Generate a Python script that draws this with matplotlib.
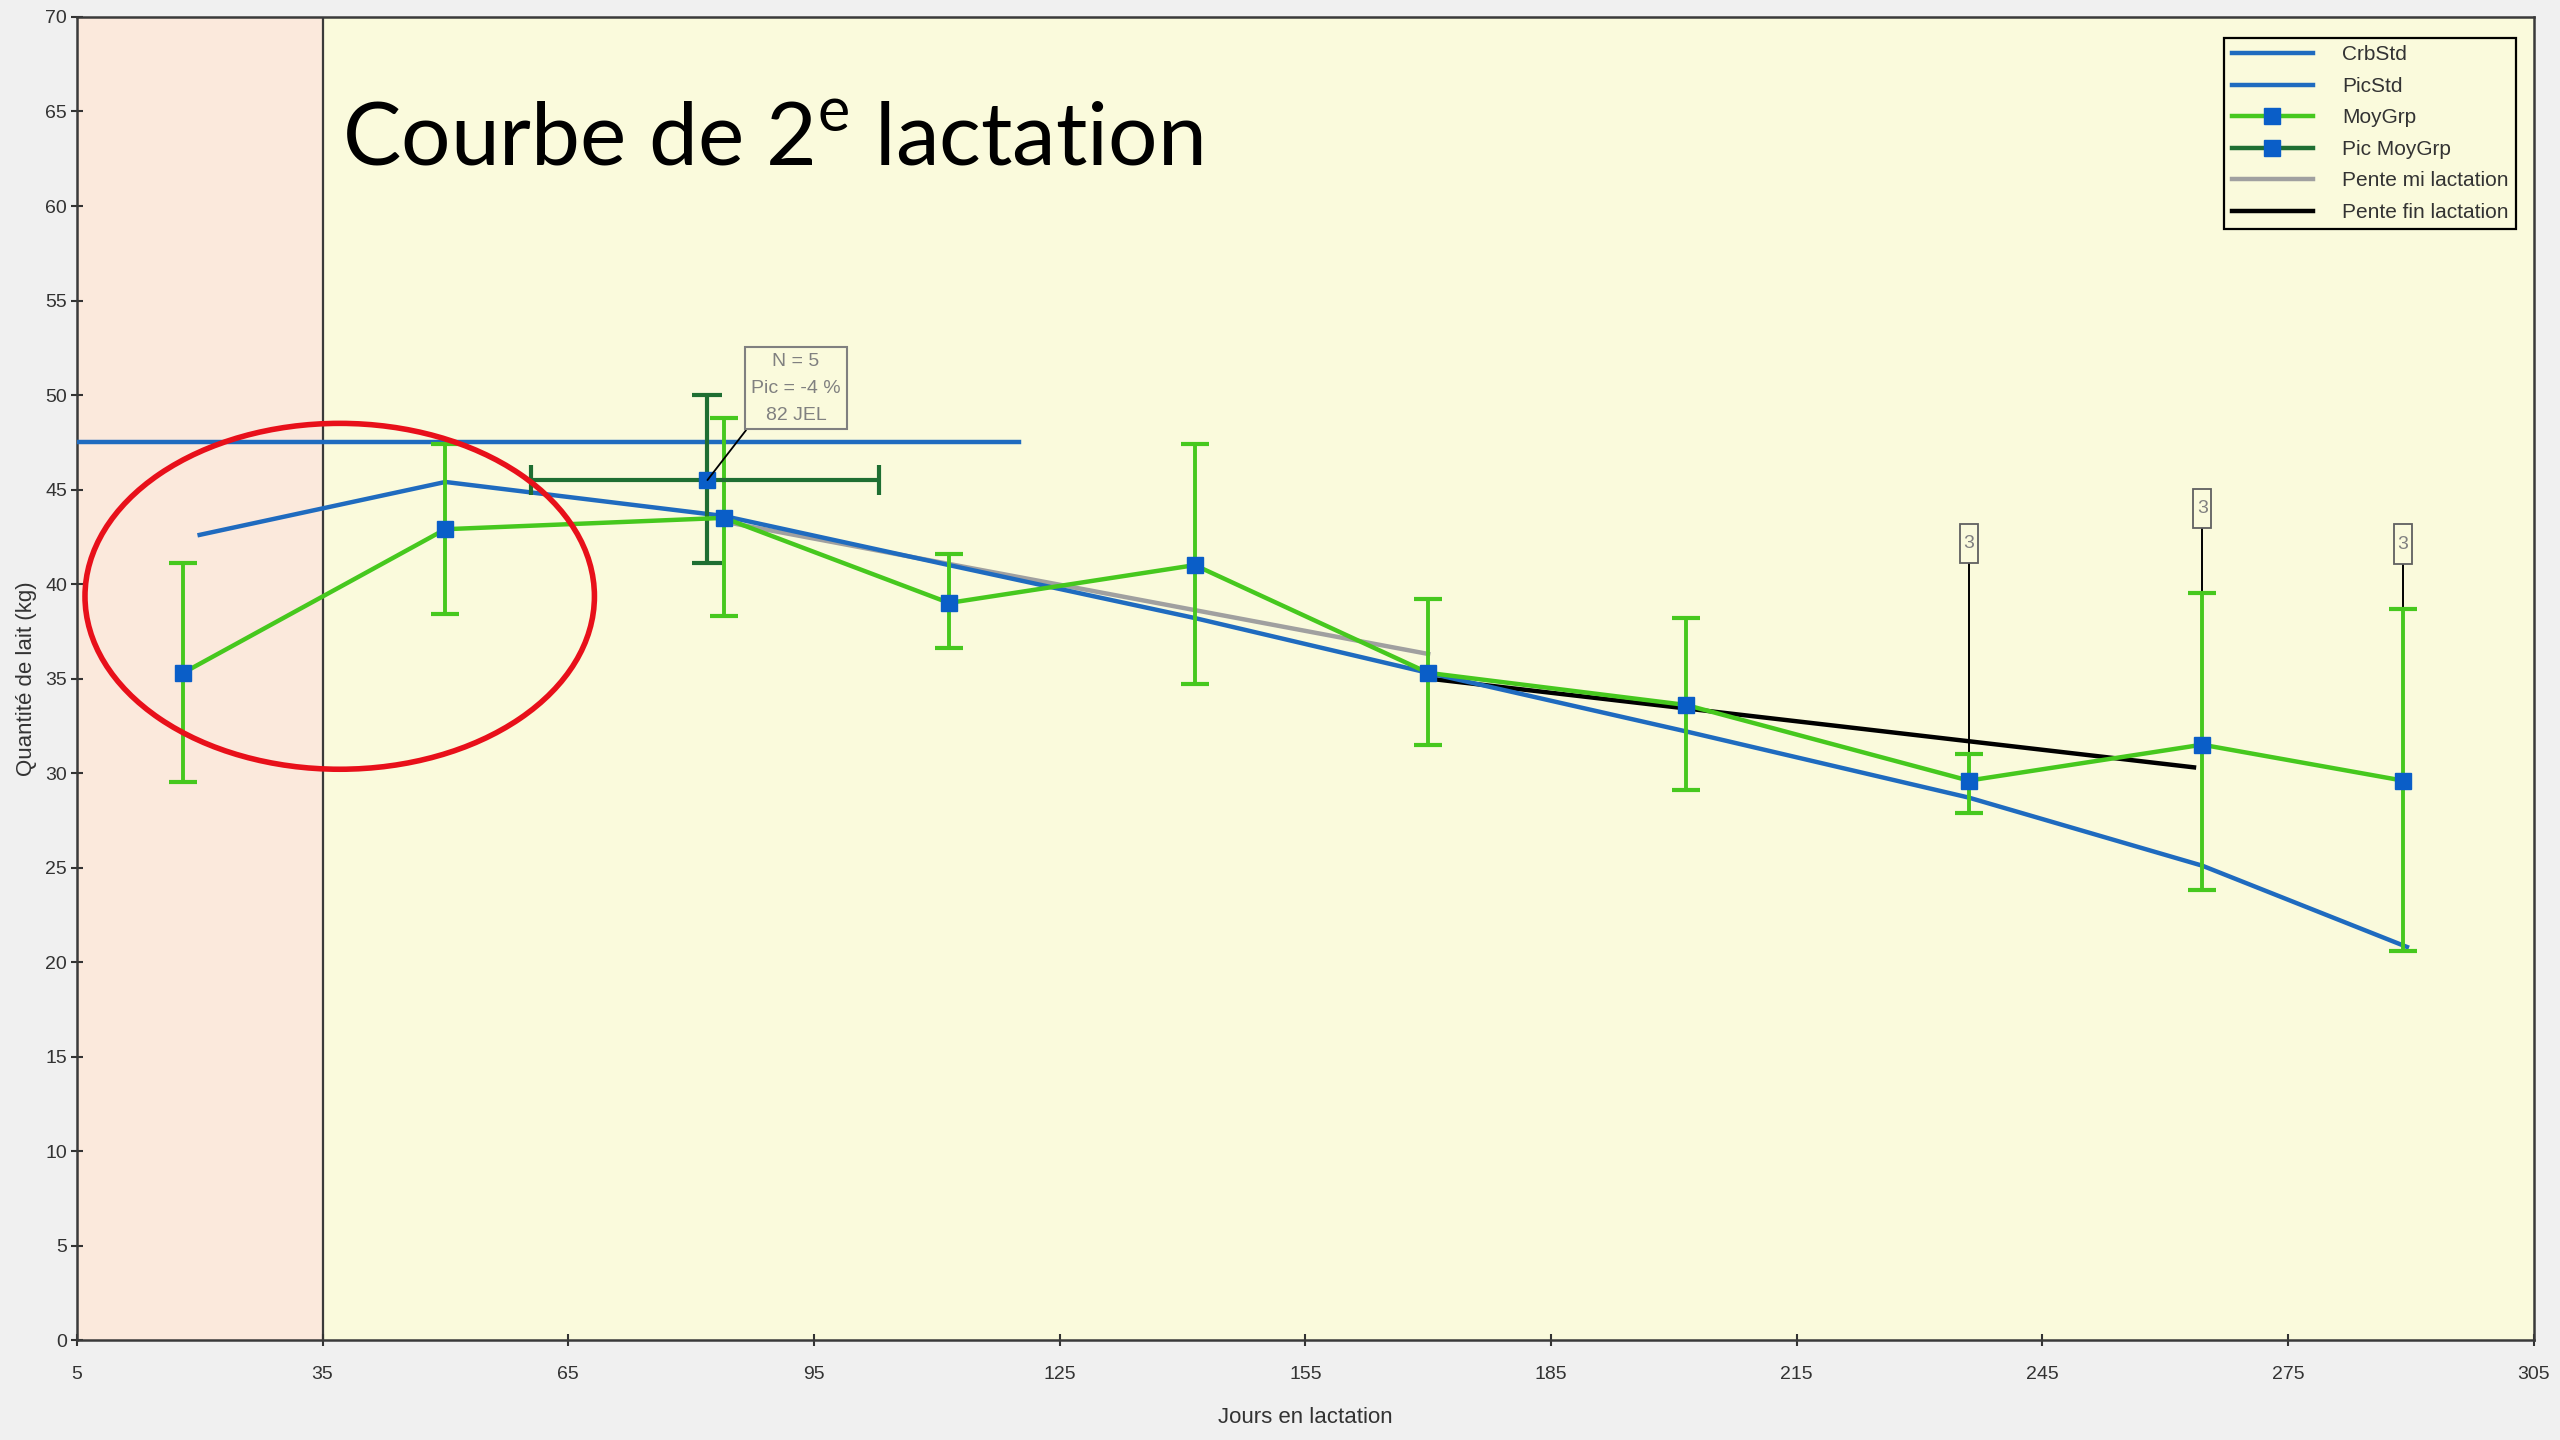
import matplotlib
matplotlib.use("Agg")
import matplotlib.pyplot as plt
from matplotlib.patches import Ellipse, Rectangle
from matplotlib.lines import Line2D

# --- data ---
days_grp = [18, 50, 84, 111.5, 141.5, 170, 201.5, 236, 264.5, 289]
moy_grp = [35.3, 42.9, 43.5, 39.0, 41.0, 35.3, 33.6, 29.6, 31.5, 29.6]
moy_low = [29.5, 38.4, 38.3, 36.6, 34.7, 31.5, 29.1, 27.9, 23.8, 20.6]
moy_high = [41.1, 47.4, 48.8, 41.6, 47.4, 39.2, 38.2, 31.0, 39.5, 38.7]

days_std = [20, 50, 84, 111.5, 141.5, 170, 201.5, 236, 264.5, 289.5]
crb_std = [42.6, 45.4, 43.6, 41.0, 38.2, 35.3, 32.2, 28.7, 25.1, 20.8]

pic_std_x = [5, 120]
pic_std_y = [47.5, 47.5]

pic_day, pic_val = 82, 45.5
pic_xerr = [60.5, 103]
pic_yerr = [41.1, 50.0]

pente_mi_x = [84, 170]
pente_mi_y = [43.3, 36.3]
pente_fin_x = [170, 263.5]
pente_fin_y = [35.0, 30.3]

n_days = [236, 264.5, 289]
n_vals = [29.6, 31.5, 29.6]
n_label_y = [42.15, 44.0, 42.1]
n_labels = ["3", "3", "3"]

xticks = list(range(5, 306, 30))
yticks = list(range(0, 71, 5))

# colours
BG_FIG = "#f0f0f0"
BG_AX = "#fafadc"
PINK = "#fbe9dc"
BLUE = "#1f6bbf"
GREEN = "#46c81e"
DKGREEN = "#1e6e32"
MARK = "#0a5ec8"

plt.rcParams["font.family"] = ["Liberation Sans Narrow", "Liberation Sans", "DejaVu Sans"]
plt.rcParams["mathtext.fontset"] = "custom"
plt.rcParams["mathtext.rm"] = "Lato"

fig = plt.figure(figsize=(25.6, 14.4), dpi=100, facecolor=BG_FIG)
ax = fig.add_axes([0.030, 0.0694, 0.9598, 0.9188])
ax.set_facecolor(BG_AX)
ax.set_xlim(5, 305)
ax.set_ylim(0, 70)

ax.axvspan(5, 35, color=PINK, zorder=0, lw=0)
ax.axvline(35, color="#3a3a3a", lw=1.6, zorder=1)

# standard curve and peak
ax.plot(days_std, crb_std, color=BLUE, lw=3.2, zorder=3)
ax.plot(pic_std_x, pic_std_y, color=BLUE, lw=3.2, zorder=3)

# slopes
ax.plot(pente_mi_x, pente_mi_y, color="#a0a0a0", lw=3.2, zorder=2)
ax.plot(pente_fin_x, pente_fin_y, color="black", lw=3.2, zorder=2)

# "3" labels: tall narrow box with a leader line down to the point
for x, y, ly, t in zip(n_days, n_vals, n_label_y, n_labels):
    ax.plot([x, x], [y, ly - 1.05], color="black", lw=1.4, zorder=4)
    ax.add_patch(Rectangle((x - 1.1, ly - 1.05), 2.2, 2.1, fc=BG_AX, ec="#606060",
                           lw=1.3, zorder=4))
    ax.text(x, ly, t, ha="center", va="center", fontsize=14, color="#808080", zorder=5)

# group mean with error bars
err = [[m - lo for m, lo in zip(moy_grp, moy_low)],
       [hi - m for m, hi in zip(moy_grp, moy_high)]]
ax.errorbar(days_grp, moy_grp, yerr=err, color=GREEN, lw=3.2, elinewidth=2.8,
            capsize=10, capthick=3, marker="s", ms=11, mfc=MARK, mec=MARK, zorder=5)

# peak of group
ax.errorbar([pic_day], [pic_val],
            xerr=[[pic_day - pic_xerr[0]], [pic_xerr[1] - pic_day]],
            yerr=[[pic_val - pic_yerr[0]], [pic_yerr[1] - pic_val]],
            color=DKGREEN, elinewidth=3, capsize=11, capthick=3,
            marker="s", ms=12, mfc=MARK, mec=MARK, ls="none", zorder=5)

ax.annotate("N = 5\nPic = -4 %\n82 JEL", xy=(pic_day, pic_val), xytext=(92.8, 50.35),
            ha="center", va="center", fontsize=14, color="#808080", linespacing=1.75,
            bbox=dict(boxstyle="square,pad=0.3", fc=BG_AX, ec="#808080", lw=1.5),
            arrowprops=dict(arrowstyle="-", color="black", lw=1.3,
                            shrinkA=0, shrinkB=0, relpos=(0, 0)),
            zorder=6)

# highlight ellipse
ax.add_patch(Ellipse((37.1, 39.35), 62.2, 18.3, fill=False, ec="#e8101a", lw=4, zorder=7))

ax.text(0.108, 0.888, "Courbe de 2$^{\\mathrm{e}}$ lactation", transform=ax.transAxes,
        family="Lato", fontsize=63, color="black", va="baseline", ha="left")

ax.set_xticks(xticks)
ax.set_yticks(yticks)
ax.tick_params(axis="both", labelsize=14, colors="#333333", direction="inout",
               length=8, width=1.5)
ax.tick_params(axis="x", pad=15)
ax.tick_params(axis="y", pad=3)
for s in ax.spines.values():
    s.set_color("#3a3a3a")
    s.set_linewidth(1.8)

ax.set_xlabel("Jours en lactation", fontsize=16, color="#333333", labelpad=17)
ax.set_ylabel("Quantité de lait (kg)", fontsize=16, color="#333333", labelpad=6)

handles = [
    Line2D([], [], color=BLUE, lw=3.2),
    Line2D([], [], color=BLUE, lw=3.2),
    Line2D([], [], color=GREEN, lw=3.2, marker="s", ms=11, mfc=MARK, mec=MARK),
    Line2D([], [], color=DKGREEN, lw=3.2, marker="s", ms=12, mfc=MARK, mec=MARK),
    Line2D([], [], color="#a0a0a0", lw=3.2),
    Line2D([], [], color="black", lw=3.2),
]
labels = ["CrbStd", "PicStd", "MoyGrp", "Pic MoyGrp", "Pente mi lactation", "Pente fin lactation"]
leg = ax.legend(handles, labels, loc="upper right", bbox_to_anchor=(0.9927, 0.984),
                borderaxespad=0, fontsize=15, handlelength=3.9, handletextpad=1.4,
                labelspacing=0.6, frameon=True, fancybox=False, facecolor=BG_AX,
                edgecolor="black", framealpha=1, borderpad=0.35)
leg.get_frame().set_linewidth(1.6)
for t in leg.get_texts():
    t.set_color("#333333")
leg.set_zorder(10)

fig.savefig("out.png", dpi=100, facecolor=BG_FIG)
